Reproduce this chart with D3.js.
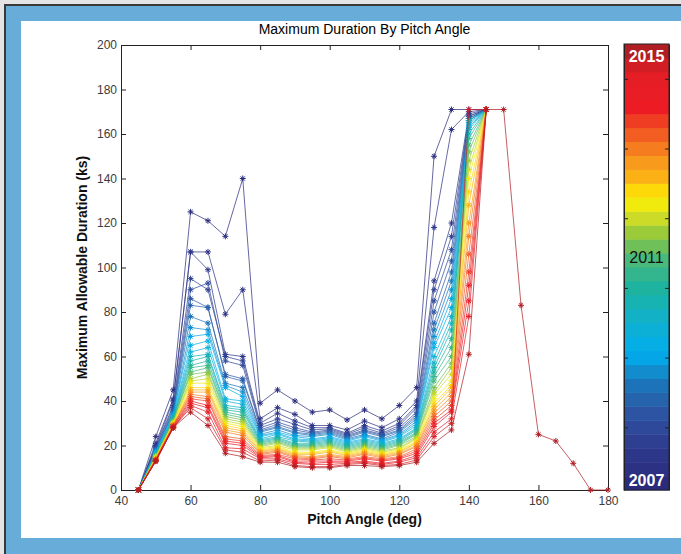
<!DOCTYPE html>
<html>
<head>
<meta charset="utf-8">
<script src="https://cdn.jsdelivr.net/npm/d3@7"></script>
<style>
    body { margin: 0; background: #ffffff; }
    svg { display: block; font-family: "Liberation Sans", Arial, Helvetica, sans-serif; }
</style>
</head>
<body>
<div id="chart"></div>
<script>
// pitch angles sampled by every series (deg)
const pitchAngles = [45, 50, 55, 60, 65, 70, 75, 80, 85, 90, 95, 100, 105, 110, 115, 120, 125, 130, 135, 140, 145];

// maximum allowable duration (ks), one row per series, oldest (2007) first
const durations = [
    [0, 24, 45, 125, 121, 114, 140, 39, 45, 40, 35, 36, 31.5, 36, 32, 38, 46, 150, 171, 171, 171],
    [0, 21, 41, 107, 107, 79, 90, 32, 37, 34, 29, 29, 27, 31, 28, 32, 40, 118, 162, 170, 171],
    [0, 20, 40, 107, 99, 61, 60, 30, 34.5, 31, 28, 28, 25.5, 29, 26.5, 30, 38, 94, 120, 169, 171],
    [0, 19.5, 38, 95, 90, 60, 58, 29, 32, 29.5, 27, 27.5, 25, 28, 25.5, 29, 37, 90, 114, 168, 171],
    [0, 19, 37, 90, 93, 58, 56, 28, 30.5, 28, 26, 27, 24.5, 27, 25, 28, 35, 85, 108, 168, 171],
    [0, 18.5, 36, 86, 82, 52, 50, 27, 29.5, 27, 25.5, 26.5, 24, 26.5, 24.5, 27, 34, 80, 103, 167, 171],
    [0, 18, 35, 83, 82, 51, 49, 26.5, 28.5, 26, 25, 26, 23.5, 26, 24, 26.5, 33, 75, 98, 167, 171],
    [0, 18, 35, 78, 75, 48, 46, 26, 28, 25.5, 24.5, 25.5, 23, 25, 23, 26, 32, 72, 94, 166, 171],
    [0, 17.5, 34, 73, 72, 47, 44, 25, 27, 24.5, 24, 25, 22.5, 24.5, 22.5, 25, 31, 69, 90, 166, 171],
    [0, 17, 34, 69, 70, 46, 42, 24.5, 26, 24, 23, 24, 22, 24, 22, 24.5, 30, 66, 86, 165, 171],
    [0, 17, 33, 65, 67, 41, 40, 24, 25.5, 23, 22.5, 23.5, 21.5, 23, 21.5, 24, 29, 64, 82, 164, 171],
    [0, 16.5, 33, 62, 64, 40, 38.5, 23, 25, 22.5, 22, 23, 21, 22.5, 21, 23, 28, 60, 78, 163, 171],
    [0, 16.5, 32, 60, 61, 38, 37, 22.5, 24, 22, 21.5, 22.5, 20.5, 22, 20.5, 22.5, 27.5, 57, 75, 162, 171],
    [0, 16, 32, 58, 60, 37, 36, 22, 23.5, 21, 21, 22, 20, 21.5, 20, 22, 27, 55, 72, 160, 171],
    [0, 16, 32, 56, 58, 36, 35, 21.5, 23, 20.5, 20.5, 21.5, 19.5, 21, 19.5, 21.5, 26, 53, 68, 166, 171],
    [0, 15.5, 31, 55, 56, 35, 33.5, 21, 22.5, 20, 20, 21, 19, 20.5, 19, 21, 25.5, 51, 64, 158, 171],
    [0, 15.5, 31, 53, 55, 34, 32.5, 20.5, 22, 19.5, 19.5, 20.5, 18.5, 20, 18.5, 20.5, 25, 49, 60, 155, 171],
    [0, 15, 31, 52, 53, 33, 31.5, 20, 21.5, 19, 19, 20, 18, 19.5, 18, 20, 24, 46, 57, 152, 171],
    [0, 15, 30, 50, 52, 32, 30.5, 19.5, 21, 18.5, 18.5, 19.5, 17.5, 19, 17.5, 19, 23.5, 44, 55, 148, 171],
    [0, 15, 30, 49, 50, 31, 29.5, 19, 20, 18, 18, 19, 17, 18.5, 17, 18.5, 23, 43, 52, 144, 171],
    [0, 14.5, 30, 48, 48, 30, 28.5, 18.5, 19.5, 17, 17, 18, 16.5, 18, 16.5, 18, 22, 41, 49, 140, 171],
    [0, 14.5, 30, 46, 46, 29, 27.5, 18, 19, 16.5, 16.5, 17.5, 16, 17.5, 16, 17.5, 21.5, 39, 47, 134, 171],
    [0, 14, 29, 45, 45, 28, 26.5, 17.5, 18.5, 16, 16, 17, 15.5, 17, 15.5, 17, 21, 37.5, 46, 128, 171],
    [0, 14, 29, 44, 44, 27, 25.5, 17, 18, 15.5, 15, 16, 15, 16.5, 15, 16.5, 20, 36, 44, 120, 171],
    [0, 14, 29, 43, 42, 26, 24.5, 16.5, 17.5, 15, 14.5, 15.5, 14.5, 16, 14.5, 16, 19.5, 34.5, 42, 114, 171],
    [0, 13.5, 29, 42, 41, 24, 23, 16, 17, 14.5, 14, 15, 14, 15, 14, 15, 18.5, 33, 40, 106, 171],
    [0, 13.5, 28.5, 41, 40, 23, 22, 15.5, 16, 14, 13.5, 14, 13.5, 14.5, 13.5, 14.5, 17.5, 31.5, 38, 98, 171],
    [0, 13.5, 28.5, 40, 38, 22, 21, 15, 15.5, 13, 13, 13, 13, 14, 13, 14, 16.5, 30, 36, 92, 171],
    [0, 13, 28, 39, 37, 21, 20, 14.5, 15, 12.5, 12, 12.5, 12.5, 13, 12, 13, 15.5, 28.5, 35, 85, 171],
    [0, 13, 28, 38, 35, 19, 18.5, 14, 14, 12, 11.5, 11.5, 12, 12.5, 11.5, 12.5, 14.5, 26, 32, 78, 171],
    [0, 13, 28, 37, 32, 18, 17, 13, 13.5, 11, 10.5, 10.5, 11.5, 12, 11, 11.5, 13.5, 24, 30, 171, 171],
    [0, 13, 28, 35, 29, 16.5, 15, 12.5, 12.5, 10.5, 10, 10, 11, 11, 10.5, 11, 12.5, 21, 27, 61, 171]
];

// the newest series keeps going past 145 deg
const tailAngles = [150, 155, 160, 165, 170, 175, 180];
const tailDurations = [171, 83, 25, 22, 12, 0, 0];

const xTicks = [40, 60, 80, 100, 120, 140, 160, 180];
const yTicks = [0, 20, 40, 60, 80, 100, 120, 140, 160, 180, 200];

// colour bar: stops along 0 (2007) .. 1 (2015)
const colorStops = [0, 0.08, 0.15, 0.22, 0.27, 0.3, 0.37, 0.45, 0.52, 0.57, 0.62, 0.66, 0.7, 0.75, 0.8, 0.87, 0.95, 1];
const stopColors = ["#2a2b7c", "#2e3a8d", "#2f4f9f", "#1f6fb5", "#0f95d5", "#00aeef", "#0fb1cf", "#1cb3a0",
    "#4cb97a", "#8cc63f", "#d7df23", "#fff200", "#fcb814", "#f7941d", "#f26522", "#ed1c24", "#e31e26", "#b01e24"];
const barLabels = ["2015", "2011", "2007"];
const barTicks = [5, 10, 15, 20, 25, 30];

const W = 681, H = 554;
const plot = { left: 121, right: 608, top: 45, bottom: 490 };
const bar = { left: 624, right: 669, top: 44, bottom: 490 };

let svg = d3.select("#chart").append("svg")
    .attr("width", W)
    .attr("height", H);

// frame around the figure
svg.append("rect").attr("x", 0).attr("y", 0).attr("width", W).attr("height", H).attr("fill", "#e4e4e4");
svg.append("rect")
    .attr("x", 5).attr("y", 5).attr("width", W).attr("height", H)
    .attr("fill", "#68acd9")
    .attr("stroke", "#3a3a3a")
    .attr("stroke-width", 2);
svg.append("rect").attr("x", 21).attr("y", 21).attr("width", W - 21).attr("height", 517).attr("fill", "#ffffff");

let x = d3.scaleLinear().domain([40, 180]).range([plot.left, plot.right]);
let y = d3.scaleLinear().domain([0, 200]).range([plot.bottom, plot.top]);
let color = d3.scaleLinear().domain(colorStops).range(stopColors).interpolate(d3.interpolateRgb);

let nSeries = durations.length;
let seriesColor = i => color(i / (nSeries - 1));

// axes (ticks point inwards like matlab)
let tickStyle = g => {
    g.selectAll("text").attr("fill", "#3c3c3c").style("font-size", "12px");
    g.selectAll("line").attr("stroke", "#222");
    g.select(".domain").attr("stroke", "#222");
};

svg.append("g")
    .attr("transform", "translate(0," + plot.bottom + ")")
    .call(d3.axisBottom(x).tickValues(xTicks).tickSizeInner(-5).tickSizeOuter(0).tickPadding(6))
    .call(tickStyle);
svg.append("g")
    .attr("transform", "translate(" + plot.left + ",0)")
    .call(d3.axisLeft(y).tickValues(yTicks).tickSizeInner(-5).tickSizeOuter(0).tickPadding(4))
    .call(tickStyle);
svg.append("g")
    .attr("transform", "translate(0," + plot.top + ")")
    .call(d3.axisTop(x).tickValues(xTicks).tickSizeInner(-5).tickSizeOuter(0).tickFormat(""))
    .call(tickStyle);
svg.append("g")
    .attr("transform", "translate(" + plot.right + ",0)")
    .call(d3.axisRight(y).tickValues(yTicks).tickSizeInner(-5).tickSizeOuter(0).tickFormat(""))
    .call(tickStyle);

// series
let line = d3.line().x(d => x(d.angle)).y(d => y(d.value));
let asterisk = {
    draw(ctx, size) {
        let r = Math.sqrt(size) / 2, d = r * 0.707;
        ctx.moveTo(-r, 0); ctx.lineTo(r, 0);
        ctx.moveTo(0, -r); ctx.lineTo(0, r);
        ctx.moveTo(-d, -d); ctx.lineTo(d, d);
        ctx.moveTo(-d, d); ctx.lineTo(d, -d);
    }
};
let marker = d3.symbol().type(asterisk).size(36);

let seriesData = durations.map((row, i) => {
    let pts = pitchAngles.map((a, j) => ({ angle: a, value: row[j] }));
    if (i === nSeries - 1) {
        pts = pts.concat(tailAngles.map((a, j) => ({ angle: a, value: tailDurations[j] })));
    }
    return { index: i, points: pts };
});

let groups = svg.append("g").selectAll(".series")
    .data(seriesData)
    .enter()
    .append("g")
    .attr("class", "series");

groups.append("path")
    .attr("d", d => line(d.points))
    .attr("fill", "none")
    .attr("stroke", d => seriesColor(d.index))
    .attr("stroke-width", 0.9)
    .attr("stroke-opacity", 0.8);

groups.each(function (s) {
    d3.select(this).selectAll(".pt")
        .data(s.points)
        .enter()
        .append("path")
        .attr("class", "pt")
        .attr("transform", d => "translate(" + x(d.angle) + "," + y(d.value) + ")")
        .attr("d", marker)
        .attr("fill", "none")
        .attr("stroke", seriesColor(s.index))
        .attr("stroke-width", 1);
});

// titles
svg.append("text")
    .attr("x", (plot.left + plot.right) / 2)
    .attr("y", 34)
    .attr("text-anchor", "middle")
    .style("font-size", "14px")
    .attr("fill", "#000")
    .text("Maximum Duration By Pitch Angle");

svg.append("text")
    .attr("x", (plot.left + plot.right) / 2)
    .attr("y", 524)
    .attr("text-anchor", "middle")
    .style("font-size", "14px")
    .style("font-weight", "bold")
    .attr("fill", "#111")
    .text("Pitch Angle (deg)");

svg.append("text")
    .attr("transform", "translate(87," + ((plot.top + plot.bottom) / 2) + ") rotate(-90)")
    .attr("text-anchor", "middle")
    .style("font-size", "14px")
    .style("font-weight", "bold")
    .attr("fill", "#111")
    .text("Maximum Allowable Duration (ks)");

// colour bar
let barY = d3.scaleLinear().domain([0.5, nSeries + 0.5]).range([bar.bottom, bar.top]);
let bands = d3.range(1, nSeries + 1);

svg.append("g").selectAll(".band")
    .data(bands)
    .enter()
    .append("rect")
    .attr("class", "band")
    .attr("x", bar.left)
    .attr("width", bar.right - bar.left)
    .attr("y", d => barY(d + 0.5))
    .attr("height", d => barY(d - 0.5) - barY(d + 0.5) + 0.5)
    .attr("fill", d => seriesColor(d - 1));

svg.append("g")
    .attr("transform", "translate(" + bar.left + ",0)")
    .call(d3.axisLeft(barY).tickValues(barTicks).tickSizeInner(-4).tickSizeOuter(0).tickFormat(""))
    .call(tickStyle);
svg.append("g")
    .attr("transform", "translate(" + bar.right + ",0)")
    .call(d3.axisRight(barY).tickValues(barTicks).tickSizeInner(-4).tickSizeOuter(0).tickFormat(""))
    .call(tickStyle);

svg.append("rect")
    .attr("x", bar.left).attr("y", bar.top)
    .attr("width", bar.right - bar.left).attr("height", bar.bottom - bar.top)
    .attr("fill", "none")
    .attr("stroke", "#222")
    .attr("stroke-width", 1);

let barMid = (bar.left + bar.right) / 2;
svg.append("text").attr("x", barMid).attr("y", 62).attr("text-anchor", "middle")
    .style("font-size", "16px").style("font-weight", "bold").attr("fill", "#fff").text(barLabels[0]);
svg.append("text").attr("x", barMid).attr("y", 263).attr("text-anchor", "middle")
    .style("font-size", "16px").attr("fill", "#111").text(barLabels[1]);
svg.append("text").attr("x", barMid).attr("y", 486).attr("text-anchor", "middle")
    .style("font-size", "16px").style("font-weight", "bold").attr("fill", "#fff").text(barLabels[2]);
</script>
</body>
</html>
